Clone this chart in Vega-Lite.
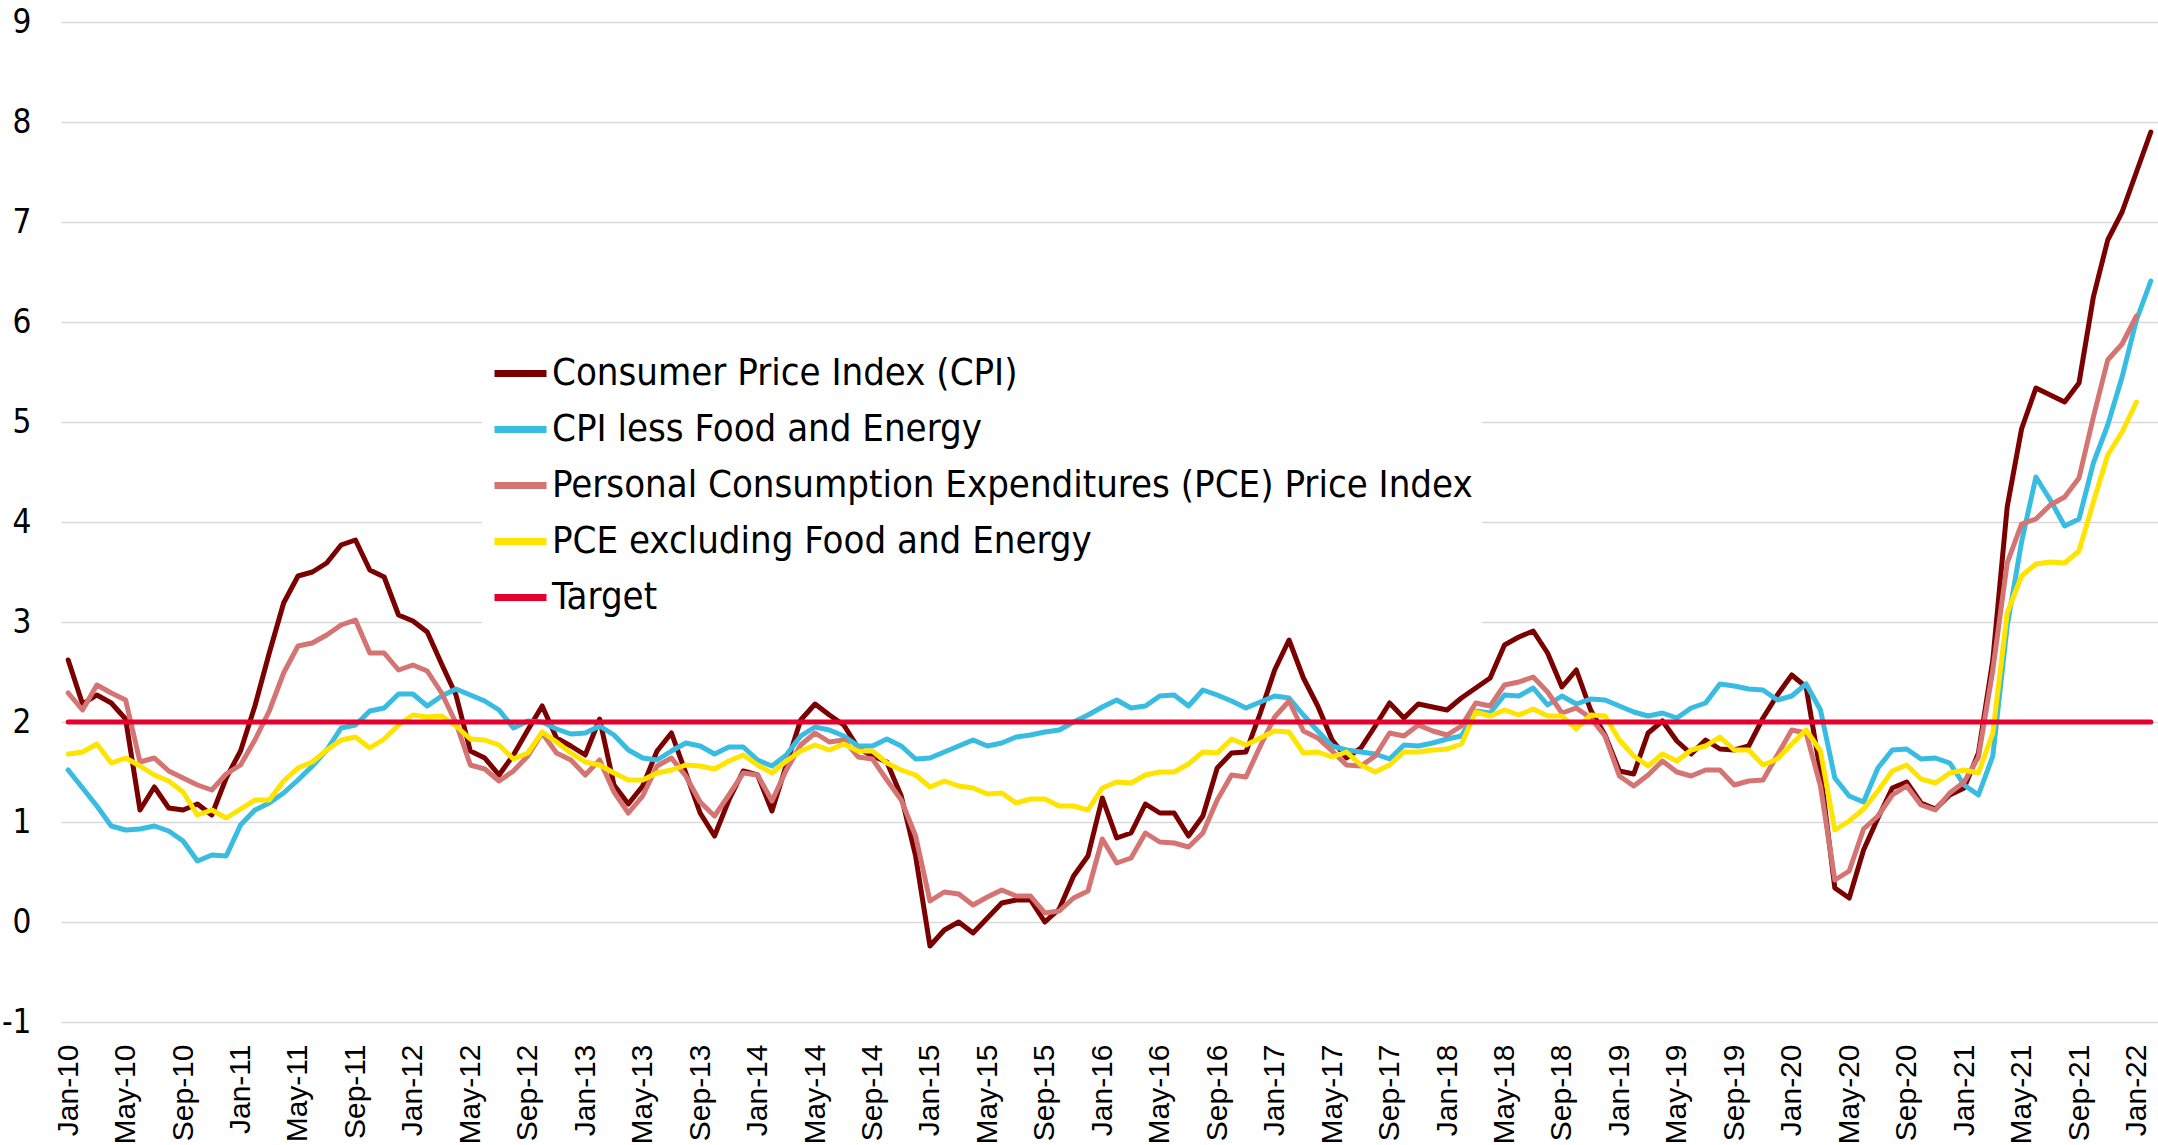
{
  "$schema": "https://vega.github.io/schema/vega-lite/v6.json",
  "width": 2097,
  "height": 1000,
  "autosize": {"type": "none"},
  "padding": {"left": 61, "top": 22, "right": 0, "bottom": 123},
  "background": "white",
  "config": {"view": {"stroke": null}},
  "data": {"values": [
    {"m":"Jan-10","cpi":2.62,"core":1.52,"pce":2.29,"corepce":1.68,"target":2},
    {"m":"Feb-10","cpi":2.18,"core":1.34,"pce":2.12,"corepce":1.70,"target":2},
    {"m":"Mar-10","cpi":2.27,"core":1.16,"pce":2.37,"corepce":1.78,"target":2},
    {"m":"Apr-10","cpi":2.19,"core":0.96,"pce":2.29,"corepce":1.59,"target":2},
    {"m":"May-10","cpi":2.03,"core":0.92,"pce":2.22,"corepce":1.64,"target":2},
    {"m":"Jun-10","cpi":1.12,"core":0.93,"pce":1.60,"corepce":1.56,"target":2},
    {"m":"Jul-10","cpi":1.35,"core":0.96,"pce":1.64,"corepce":1.47,"target":2},
    {"m":"Aug-10","cpi":1.14,"core":0.91,"pce":1.51,"corepce":1.41,"target":2},
    {"m":"Sep-10","cpi":1.12,"core":0.81,"pce":1.44,"corepce":1.30,"target":2},
    {"m":"Oct-10","cpi":1.18,"core":0.61,"pce":1.37,"corepce":1.07,"target":2},
    {"m":"Nov-10","cpi":1.07,"core":0.67,"pce":1.32,"corepce":1.12,"target":2},
    {"m":"Dec-10","cpi":1.44,"core":0.66,"pce":1.48,"corepce":1.04,"target":2},
    {"m":"Jan-11","cpi":1.71,"core":0.97,"pce":1.57,"corepce":1.13,"target":2},
    {"m":"Feb-11","cpi":2.16,"core":1.12,"pce":1.82,"corepce":1.22,"target":2},
    {"m":"Mar-11","cpi":2.69,"core":1.19,"pce":2.11,"corepce":1.22,"target":2},
    {"m":"Apr-11","cpi":3.19,"core":1.29,"pce":2.49,"corepce":1.41,"target":2},
    {"m":"May-11","cpi":3.46,"core":1.42,"pce":2.76,"corepce":1.54,"target":2},
    {"m":"Jun-11","cpi":3.50,"core":1.56,"pce":2.79,"corepce":1.60,"target":2},
    {"m":"Jul-11","cpi":3.59,"core":1.72,"pce":2.87,"corepce":1.72,"target":2},
    {"m":"Aug-11","cpi":3.77,"core":1.94,"pce":2.97,"corepce":1.82,"target":2},
    {"m":"Sep-11","cpi":3.82,"core":1.97,"pce":3.02,"corepce":1.85,"target":2},
    {"m":"Oct-11","cpi":3.52,"core":2.11,"pce":2.69,"corepce":1.74,"target":2},
    {"m":"Nov-11","cpi":3.45,"core":2.14,"pce":2.69,"corepce":1.83,"target":2},
    {"m":"Dec-11","cpi":3.07,"core":2.28,"pce":2.52,"corepce":1.97,"target":2},
    {"m":"Jan-12","cpi":3.01,"core":2.28,"pce":2.57,"corepce":2.07,"target":2},
    {"m":"Feb-12","cpi":2.90,"core":2.16,"pce":2.51,"corepce":2.05,"target":2},
    {"m":"Mar-12","cpi":2.58,"core":2.26,"pce":2.29,"corepce":2.06,"target":2},
    {"m":"Apr-12","cpi":2.27,"core":2.33,"pce":1.99,"corepce":1.96,"target":2},
    {"m":"May-12","cpi":1.71,"core":2.27,"pce":1.57,"corepce":1.83,"target":2},
    {"m":"Jun-12","cpi":1.64,"core":2.21,"pce":1.53,"corepce":1.82,"target":2},
    {"m":"Jul-12","cpi":1.47,"core":2.12,"pce":1.41,"corepce":1.77,"target":2},
    {"m":"Aug-12","cpi":1.67,"core":1.94,"pce":1.51,"corepce":1.63,"target":2},
    {"m":"Sep-12","cpi":1.92,"core":2.01,"pce":1.66,"corepce":1.69,"target":2},
    {"m":"Oct-12","cpi":2.16,"core":2.00,"pce":1.89,"corepce":1.90,"target":2},
    {"m":"Nov-12","cpi":1.84,"core":1.93,"pce":1.69,"corepce":1.80,"target":2},
    {"m":"Dec-12","cpi":1.76,"core":1.88,"pce":1.62,"corepce":1.69,"target":2},
    {"m":"Jan-13","cpi":1.67,"core":1.89,"pce":1.47,"corepce":1.60,"target":2},
    {"m":"Feb-13","cpi":2.03,"core":1.96,"pce":1.62,"corepce":1.57,"target":2},
    {"m":"Mar-13","cpi":1.37,"core":1.87,"pce":1.30,"corepce":1.49,"target":2},
    {"m":"Apr-13","cpi":1.18,"core":1.72,"pce":1.09,"corepce":1.42,"target":2},
    {"m":"May-13","cpi":1.36,"core":1.64,"pce":1.26,"corepce":1.42,"target":2},
    {"m":"Jun-13","cpi":1.71,"core":1.62,"pce":1.56,"corepce":1.49,"target":2},
    {"m":"Jul-13","cpi":1.89,"core":1.71,"pce":1.64,"corepce":1.52,"target":2},
    {"m":"Aug-13","cpi":1.49,"core":1.79,"pce":1.46,"corepce":1.57,"target":2},
    {"m":"Sep-13","cpi":1.09,"core":1.76,"pce":1.20,"corepce":1.56,"target":2},
    {"m":"Oct-13","cpi":0.86,"core":1.68,"pce":1.06,"corepce":1.53,"target":2},
    {"m":"Nov-13","cpi":1.22,"core":1.75,"pce":1.27,"corepce":1.61,"target":2},
    {"m":"Dec-13","cpi":1.51,"core":1.75,"pce":1.49,"corepce":1.67,"target":2},
    {"m":"Jan-14","cpi":1.47,"core":1.62,"pce":1.47,"corepce":1.57,"target":2},
    {"m":"Feb-14","cpi":1.11,"core":1.56,"pce":1.21,"corepce":1.49,"target":2},
    {"m":"Mar-14","cpi":1.57,"core":1.67,"pce":1.52,"corepce":1.61,"target":2},
    {"m":"Apr-14","cpi":2.02,"core":1.86,"pce":1.77,"corepce":1.71,"target":2},
    {"m":"May-14","cpi":2.18,"core":1.95,"pce":1.89,"corepce":1.77,"target":2},
    {"m":"Jun-14","cpi":2.07,"core":1.92,"pce":1.80,"corepce":1.72,"target":2},
    {"m":"Jul-14","cpi":1.97,"core":1.86,"pce":1.82,"corepce":1.78,"target":2},
    {"m":"Aug-14","cpi":1.74,"core":1.76,"pce":1.65,"corepce":1.71,"target":2},
    {"m":"Sep-14","cpi":1.66,"core":1.76,"pce":1.63,"corepce":1.71,"target":2},
    {"m":"Oct-14","cpi":1.60,"core":1.83,"pce":1.42,"corepce":1.59,"target":2},
    {"m":"Nov-14","cpi":1.26,"core":1.76,"pce":1.22,"corepce":1.52,"target":2},
    {"m":"Dec-14","cpi":0.66,"core":1.63,"pce":0.86,"corepce":1.47,"target":2},
    {"m":"Jan-15","cpi":-0.24,"core":1.64,"pce":0.21,"corepce":1.35,"target":2},
    {"m":"Feb-15","cpi":-0.08,"core":1.70,"pce":0.30,"corepce":1.41,"target":2},
    {"m":"Mar-15","cpi":0.00,"core":1.76,"pce":0.28,"corepce":1.36,"target":2},
    {"m":"Apr-15","cpi":-0.11,"core":1.82,"pce":0.17,"corepce":1.34,"target":2},
    {"m":"May-15","cpi":0.04,"core":1.76,"pce":0.25,"corepce":1.28,"target":2},
    {"m":"Jun-15","cpi":0.19,"core":1.79,"pce":0.32,"corepce":1.29,"target":2},
    {"m":"Jul-15","cpi":0.22,"core":1.85,"pce":0.26,"corepce":1.19,"target":2},
    {"m":"Aug-15","cpi":0.22,"core":1.87,"pce":0.26,"corepce":1.23,"target":2},
    {"m":"Sep-15","cpi":0.00,"core":1.90,"pce":0.09,"corepce":1.23,"target":2},
    {"m":"Oct-15","cpi":0.13,"core":1.92,"pce":0.11,"corepce":1.16,"target":2},
    {"m":"Nov-15","cpi":0.46,"core":2.00,"pce":0.24,"corepce":1.16,"target":2},
    {"m":"Dec-15","cpi":0.66,"core":2.07,"pce":0.31,"corepce":1.12,"target":2},
    {"m":"Jan-16","cpi":1.24,"core":2.15,"pce":0.83,"corepce":1.34,"target":2},
    {"m":"Feb-16","cpi":0.84,"core":2.22,"pce":0.59,"corepce":1.40,"target":2},
    {"m":"Mar-16","cpi":0.89,"core":2.14,"pce":0.64,"corepce":1.39,"target":2},
    {"m":"Apr-16","cpi":1.18,"core":2.16,"pce":0.89,"corepce":1.47,"target":2},
    {"m":"May-16","cpi":1.09,"core":2.26,"pce":0.80,"corepce":1.50,"target":2},
    {"m":"Jun-16","cpi":1.09,"core":2.27,"pce":0.79,"corepce":1.50,"target":2},
    {"m":"Jul-16","cpi":0.86,"core":2.16,"pce":0.75,"corepce":1.58,"target":2},
    {"m":"Aug-16","cpi":1.06,"core":2.32,"pce":0.89,"corepce":1.70,"target":2},
    {"m":"Sep-16","cpi":1.54,"core":2.27,"pce":1.22,"corepce":1.69,"target":2},
    {"m":"Oct-16","cpi":1.69,"core":2.21,"pce":1.47,"corepce":1.83,"target":2},
    {"m":"Nov-16","cpi":1.70,"core":2.14,"pce":1.45,"corepce":1.77,"target":2},
    {"m":"Dec-16","cpi":2.09,"core":2.20,"pce":1.76,"corepce":1.84,"target":2},
    {"m":"Jan-17","cpi":2.52,"core":2.26,"pce":2.05,"corepce":1.91,"target":2},
    {"m":"Feb-17","cpi":2.82,"core":2.24,"pce":2.21,"corepce":1.90,"target":2},
    {"m":"Mar-17","cpi":2.44,"core":2.07,"pce":1.91,"corepce":1.69,"target":2},
    {"m":"Apr-17","cpi":2.16,"core":1.91,"pce":1.84,"corepce":1.70,"target":2},
    {"m":"May-17","cpi":1.82,"core":1.76,"pce":1.71,"corepce":1.65,"target":2},
    {"m":"Jun-17","cpi":1.64,"core":1.72,"pce":1.57,"corepce":1.70,"target":2},
    {"m":"Jul-17","cpi":1.74,"core":1.70,"pce":1.56,"corepce":1.57,"target":2},
    {"m":"Aug-17","cpi":1.96,"core":1.68,"pce":1.66,"corepce":1.50,"target":2},
    {"m":"Sep-17","cpi":2.19,"core":1.63,"pce":1.89,"corepce":1.57,"target":2},
    {"m":"Oct-17","cpi":2.04,"core":1.77,"pce":1.86,"corepce":1.70,"target":2},
    {"m":"Nov-17","cpi":2.18,"core":1.76,"pce":1.97,"corepce":1.70,"target":2},
    {"m":"Dec-17","cpi":2.15,"core":1.79,"pce":1.91,"corepce":1.72,"target":2},
    {"m":"Jan-18","cpi":2.12,"core":1.83,"pce":1.87,"corepce":1.73,"target":2},
    {"m":"Feb-18","cpi":2.24,"core":1.86,"pce":1.96,"corepce":1.78,"target":2},
    {"m":"Mar-18","cpi":2.34,"core":2.11,"pce":2.19,"corepce":2.10,"target":2},
    {"m":"Apr-18","cpi":2.44,"core":2.09,"pce":2.16,"corepce":2.06,"target":2},
    {"m":"May-18","cpi":2.77,"core":2.27,"pce":2.37,"corepce":2.12,"target":2},
    {"m":"Jun-18","cpi":2.85,"core":2.26,"pce":2.40,"corepce":2.07,"target":2},
    {"m":"Jul-18","cpi":2.91,"core":2.34,"pce":2.45,"corepce":2.13,"target":2},
    {"m":"Aug-18","cpi":2.69,"core":2.17,"pce":2.30,"corepce":2.06,"target":2},
    {"m":"Sep-18","cpi":2.35,"core":2.26,"pce":2.09,"corepce":2.06,"target":2},
    {"m":"Oct-18","cpi":2.52,"core":2.18,"pce":2.14,"corepce":1.93,"target":2},
    {"m":"Nov-18","cpi":2.12,"core":2.23,"pce":2.04,"corepce":2.07,"target":2},
    {"m":"Dec-18","cpi":1.87,"core":2.22,"pce":1.86,"corepce":2.06,"target":2},
    {"m":"Jan-19","cpi":1.51,"core":2.16,"pce":1.46,"corepce":1.82,"target":2},
    {"m":"Feb-19","cpi":1.48,"core":2.10,"pce":1.36,"corepce":1.66,"target":2},
    {"m":"Mar-19","cpi":1.89,"core":2.06,"pce":1.47,"corepce":1.56,"target":2},
    {"m":"Apr-19","cpi":2.01,"core":2.09,"pce":1.61,"corepce":1.68,"target":2},
    {"m":"May-19","cpi":1.81,"core":2.04,"pce":1.50,"corepce":1.61,"target":2},
    {"m":"Jun-19","cpi":1.68,"core":2.14,"pce":1.46,"corepce":1.72,"target":2},
    {"m":"Jul-19","cpi":1.82,"core":2.19,"pce":1.52,"corepce":1.76,"target":2},
    {"m":"Aug-19","cpi":1.73,"core":2.38,"pce":1.52,"corepce":1.85,"target":2},
    {"m":"Sep-19","cpi":1.72,"core":2.36,"pce":1.37,"corepce":1.72,"target":2},
    {"m":"Oct-19","cpi":1.76,"core":2.33,"pce":1.41,"corepce":1.72,"target":2},
    {"m":"Nov-19","cpi":2.04,"core":2.32,"pce":1.42,"corepce":1.57,"target":2},
    {"m":"Dec-19","cpi":2.27,"core":2.22,"pce":1.67,"corepce":1.63,"target":2},
    {"m":"Jan-20","cpi":2.47,"core":2.26,"pce":1.92,"corepce":1.78,"target":2},
    {"m":"Feb-20","cpi":2.35,"core":2.38,"pce":1.89,"corepce":1.92,"target":2},
    {"m":"Mar-20","cpi":1.50,"core":2.12,"pce":1.36,"corepce":1.71,"target":2},
    {"m":"Apr-20","cpi":0.34,"core":1.44,"pce":0.42,"corepce":0.92,"target":2},
    {"m":"May-20","cpi":0.24,"core":1.26,"pce":0.51,"corepce":1.01,"target":2},
    {"m":"Jun-20","cpi":0.72,"core":1.20,"pce":0.93,"corepce":1.13,"target":2},
    {"m":"Jul-20","cpi":1.04,"core":1.54,"pce":1.06,"corepce":1.31,"target":2},
    {"m":"Aug-20","cpi":1.34,"core":1.72,"pce":1.27,"corepce":1.51,"target":2},
    {"m":"Sep-20","cpi":1.40,"core":1.73,"pce":1.36,"corepce":1.57,"target":2},
    {"m":"Oct-20","cpi":1.19,"core":1.63,"pce":1.17,"corepce":1.43,"target":2},
    {"m":"Nov-20","cpi":1.13,"core":1.64,"pce":1.12,"corepce":1.39,"target":2},
    {"m":"Dec-20","cpi":1.27,"core":1.59,"pce":1.29,"corepce":1.49,"target":2},
    {"m":"Jan-21","cpi":1.34,"core":1.37,"pce":1.40,"corepce":1.52,"target":2},
    {"m":"Feb-21","cpi":1.69,"core":1.27,"pce":1.65,"corepce":1.49,"target":2},
    {"m":"Mar-21","cpi":2.62,"core":1.66,"pce":2.52,"corepce":1.89,"target":2},
    {"m":"Apr-21","cpi":4.15,"core":2.96,"pce":3.59,"corepce":3.09,"target":2},
    {"m":"May-21","cpi":4.93,"core":3.80,"pce":3.98,"corepce":3.46,"target":2},
    {"m":"Jun-21","cpi":5.34,"core":4.45,"pce":4.03,"corepce":3.58,"target":2},
    {"m":"Jul-21","cpi":5.27,"core":4.22,"pce":4.17,"corepce":3.60,"target":2},
    {"m":"Aug-21","cpi":5.20,"core":3.96,"pce":4.25,"corepce":3.59,"target":2},
    {"m":"Sep-21","cpi":5.39,"core":4.03,"pce":4.44,"corepce":3.71,"target":2},
    {"m":"Oct-21","cpi":6.25,"core":4.59,"pce":5.05,"corepce":4.20,"target":2},
    {"m":"Nov-21","cpi":6.82,"core":4.97,"pce":5.62,"corepce":4.67,"target":2},
    {"m":"Dec-21","cpi":7.10,"core":5.45,"pce":5.78,"corepce":4.90,"target":2},
    {"m":"Jan-22","cpi":7.50,"core":6.02,"pce":6.06,"corepce":5.20,"target":2},
    {"m":"Feb-22","cpi":7.90,"core":6.41,"pce":null,"corepce":null,"target":2}
  ]},
  "transform": [
    {"fold": ["cpi", "core", "pce", "corepce", "target"], "as": ["series", "value"]}
  ],
  "mark": {"type": "line", "strokeWidth": 5, "strokeCap": "round", "strokeJoin": "round"},
  "encoding": {
    "x": {
      "field": "m",
      "type": "ordinal",
      "sort": null,
      "scale": {"type": "point", "padding": 0.5},
      "axis": {
        "title": null,
        "values": ["Jan-10","May-10","Sep-10","Jan-11","May-11","Sep-11","Jan-12","May-12","Sep-12","Jan-13","May-13","Sep-13","Jan-14","May-14","Sep-14","Jan-15","May-15","Sep-15","Jan-16","May-16","Sep-16","Jan-17","May-17","Sep-17","Jan-18","May-18","Sep-18","Jan-19","May-19","Sep-19","Jan-20","May-20","Sep-20","Jan-21","May-21","Sep-21","Jan-22"],
        "labelAngle": -90,
        "labelFont": "Liberation Sans",
        "labelFontSize": 30,
        "labelColor": "#000000",
        "labelPadding": 22,
        "domain": false,
        "ticks": false,
        "grid": false
      }
    },
    "y": {
      "field": "value",
      "type": "quantitative",
      "scale": {"domain": [-1, 9], "nice": false, "zero": false},
      "axis": {
        "title": null,
        "values": [-1, 0, 1, 2, 3, 4, 5, 6, 7, 8, 9],
        "labelExpr": "'' + datum.value",
        "labelFont": "DejaVu Sans Condensed",
        "labelFontSize": 33,
        "labelColor": "#000000",
        "labelPadding": 30,
        "domain": false,
        "ticks": false,
        "gridColor": "#d9d9d9",
        "gridWidth": 1.5
      }
    },
    "color": {
      "field": "series",
      "type": "nominal",
      "scale": {
        "domain": ["cpi", "core", "pce", "corepce", "target"],
        "range": ["#7b0000", "#38bce2", "#d47473", "#ffe400", "#e6002e"]
      },
      "legend": {
        "title": null,
        "orient": "none",
        "legendX": 421,
        "legendY": 313,
        "direction": "vertical",
        "symbolType": "stroke",
        "symbolSize": 2704,
        "symbolStrokeWidth": 7,
        "labelFont": "DejaVu Sans Condensed",
        "labelFontSize": 38,
        "labelColor": "#000000",
        "labelOffset": 2,
        "labelLimit": 1200,
        "rowPadding": 7,
        "padding": 9,
        "fillColor": "white",
        "labelExpr": "datum.label == 'cpi' ? 'Consumer Price Index (CPI)' : datum.label == 'core' ? 'CPI less Food and Energy' : datum.label == 'pce' ? 'Personal Consumption Expenditures (PCE) Price Index' : datum.label == 'corepce' ? 'PCE excluding Food and Energy' : 'Target'"
      }
    }
  }
}
